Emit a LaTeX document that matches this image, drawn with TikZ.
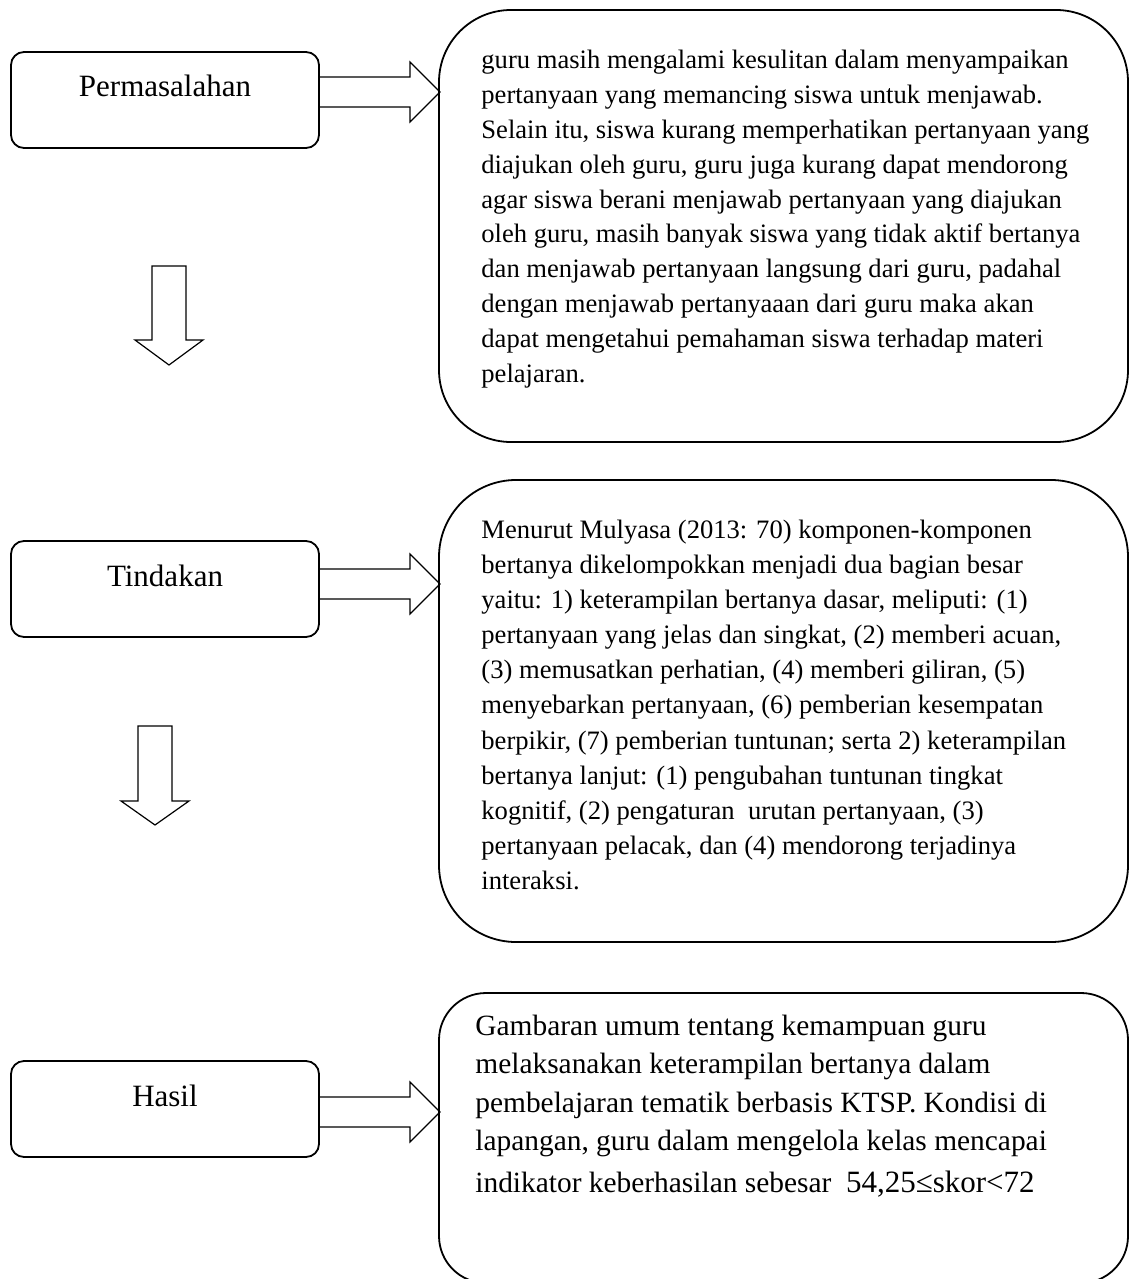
\documentclass[tikz,border=0pt]{standalone}
\usepackage{fontspec}
\setmainfont{Liberation Serif}
\begin{document}
\begin{tikzpicture}[x=0.5pt,y=-0.5pt,
  lbox/.style={draw, line width=0.9pt, rounded corners=6.5pt, minimum width=154pt, minimum height=48pt,
    inner sep=0pt, text height=10pt, text depth=13pt, font=\fontsize{15.5}{18}\selectfont},
  rbox/.style={draw, line width=0.9pt, minimum width=344.5pt, inner sep=0pt},
  txt/.style={anchor=north west, inner sep=0pt, align=left},
  blk/.style={draw, line width=0.6pt, line join=miter}
]
\useasboundingbox (0,0) rectangle (1129,1279);

% left boxes
\node[lbox] (L1) at (165,100) {Permasalahan};
\node[lbox] (L2) at (165,589) {Tindakan};
\node[lbox] (L3) at (165,1109) {Hasil};

% right boxes
\node[rbox, minimum height=216pt, rounded corners=36pt] (R1) at (783.5,226) {};
\node[rbox, minimum height=231pt, rounded corners=38.5pt] (R2) at (783.5,711) {};
\node[rbox, minimum height=145pt, rounded corners=23.5pt] (R3) at (783.5,1138) {};

% right block arrows
\newcommand\rblock[1]{%
  \draw[blk] (319,#1-15) -- (410,#1-15) -- (410,#1-30) -- (440,#1) -- (410,#1+30) -- (410,#1+15) -- (319,#1+15);}
\rblock{92}
\rblock{584}
\rblock{1112}

% down block arrows
\draw[blk] (152,266) -- (186,266) -- (186,340) -- (203,340) -- (169,365) -- (135,340) -- (152,340) -- cycle;
\draw[blk] (138,726) -- (172,726) -- (172,801) -- (189,801) -- (155,825) -- (121,801) -- (138,801) -- cycle;

% texts
\node[txt, font=\fontsize{13.3}{17.45}\selectfont] (T1) at (481,48) {\rule{0pt}{10pt}guru masih mengalami kesulitan dalam menyampaikan\\
pertanyaan yang memancing siswa untuk menjawab.\\
Selain itu, siswa kurang memperhatikan pertanyaan yang\\
diajukan oleh guru, guru juga kurang dapat mendorong\\
agar siswa berani menjawab pertanyaan yang diajukan\\
oleh guru, masih banyak siswa yang tidak aktif bertanya\\
dan menjawab pertanyaan langsung dari guru, padahal\\
dengan menjawab pertanyaaan dari guru maka akan\\
dapat mengetahui pemahaman siswa terhadap materi\\
pelajaran.};

\node[txt, font=\fontsize{13.3}{17.55}\selectfont] (T2) at (481,518) {\rule{0pt}{10pt}Menurut Mulyasa (2013: 70) komponen-komponen\\
bertanya dikelompokkan menjadi dua bagian besar\\
yaitu: 1) keterampilan bertanya dasar, meliputi: (1)\\
pertanyaan yang jelas dan singkat, (2) memberi acuan,\\
(3) memusatkan perhatian, (4) memberi giliran, (5)\\
menyebarkan pertanyaan, (6) pemberian kesempatan\\
berpikir, (7) pemberian tuntunan; serta 2) keterampilan\\
bertanya lanjut: (1) pengubahan tuntunan tingkat\\
kognitif, (2) pengaturan\ \ urutan pertanyaan, (3)\\
pertanyaan pelacak, dan (4) mendorong terjadinya\\
interaksi.};

\node[txt, font=\fontsize{14.7}{19.2}\selectfont] (T3) at (475,1013) {\rule{0pt}{11pt}Gambaran umum tentang kemampuan guru\\
melaksanakan keterampilan bertanya dalam\\
pembelajaran tematik berbasis KTSP. Kondisi di\\
lapangan, guru dalam mengelola kelas mencapai\\[1.8pt]
indikator keberhasilan sebesar\ \ {\fontsize{15.5}{19.2}\selectfont 54,25≤skor<72}};
\end{tikzpicture}
\end{document}
